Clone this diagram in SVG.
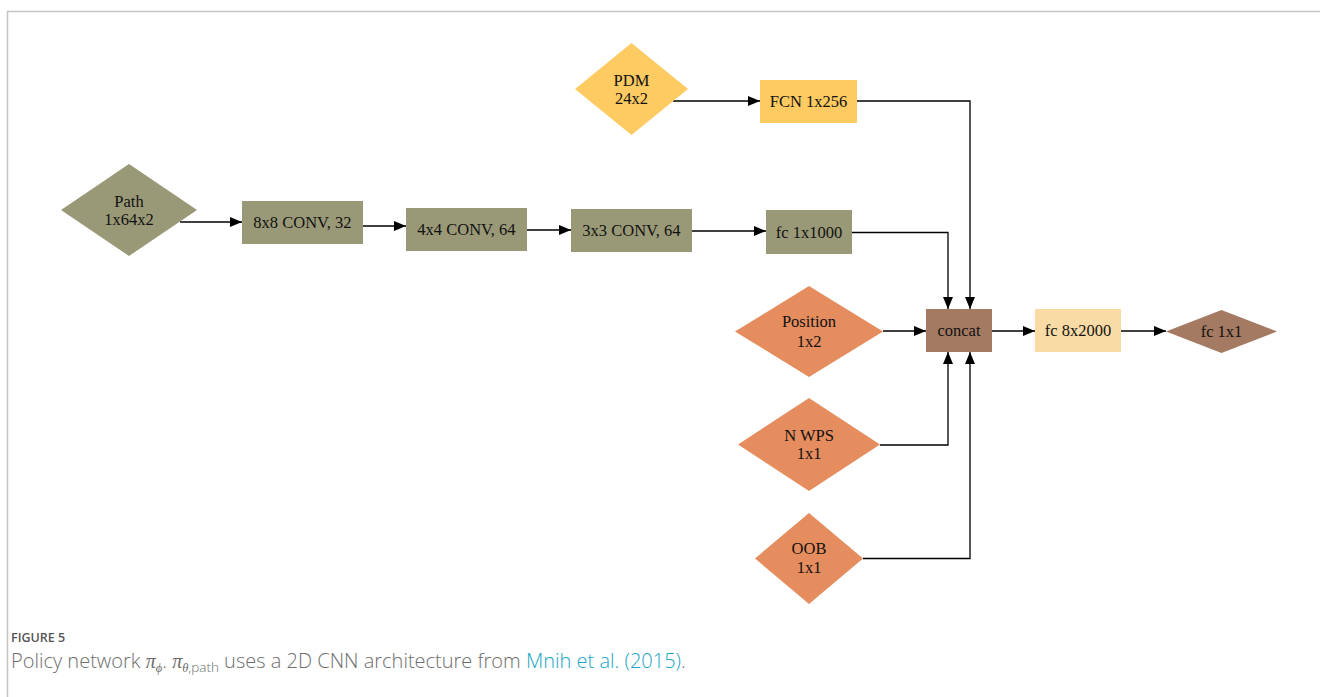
<svg xmlns="http://www.w3.org/2000/svg" width="1320" height="697" viewBox="0 0 1320 697">
<style>
.lbl{font-family:"Liberation Serif","Times New Roman",serif;font-size:16.5px;fill:#111;text-anchor:middle}
.olive{fill:#9a9977}
.yel{fill:#fecb62}
.org{fill:#e58d5e}
.brn{fill:#a57a62}
.lt{fill:#f9dba5}
.edge{fill:none;stroke:#000;stroke-width:1.3}
.cap{font-family:"Open Sans","Liberation Sans",sans-serif}
.m{font-family:"Liberation Serif","Times New Roman",serif;font-style:italic}
</style>
<defs>
<marker id="ah" viewBox="0 0 12 10" refX="12" refY="5" markerWidth="12" markerHeight="10" markerUnits="userSpaceOnUse" orient="auto">
<path d="M0,0 L12,5 L0,10 Z" fill="#000"/>
</marker>
</defs>
<rect width="1320" height="697" fill="#fff"/>
<path d="M7.5,697 V11.5 H1320" fill="none" stroke="#c4c4c4" stroke-width="1.5"/>

<g id="connectors">
<path class="edge" d="M180,222 H242" marker-end="url(#ah)"/>
<path class="edge" d="M363,226 H406" marker-end="url(#ah)"/>
<path class="edge" d="M527,230 H571" marker-end="url(#ah)"/>
<path class="edge" d="M692,231 H766" marker-end="url(#ah)"/>
<path class="edge" d="M852,232.5 H948 V309" marker-end="url(#ah)"/>
<path class="edge" d="M673,101 H760" marker-end="url(#ah)"/>
<path class="edge" d="M857,101 H970 V309" marker-end="url(#ah)"/>
<path class="edge" d="M883,331 H926" marker-end="url(#ah)"/>
<path class="edge" d="M880,445 H948 V352" marker-end="url(#ah)"/>
<path class="edge" d="M863,558.5 H970 V352" marker-end="url(#ah)"/>
<path class="edge" d="M992,331 H1035" marker-end="url(#ah)"/>
<path class="edge" d="M1121,331 H1166" marker-end="url(#ah)"/>
</g>

<g id="path">
<polygon class="olive" points="129,164 197,210 129,256 61,210"/>
<text class="lbl" x="129" y="207">Path</text>
<text class="lbl" x="129" y="225">1x64x2</text>
</g>
<g id="conv8">
<rect class="olive" x="242" y="201" width="121" height="43"/>
<text class="lbl" x="302.5" y="228">8x8 CONV, 32</text>
</g>
<g id="conv4">
<rect class="olive" x="406" y="208" width="121" height="43"/>
<text class="lbl" x="466.5" y="235">4x4 CONV, 64</text>
</g>
<g id="conv3">
<rect class="olive" x="571" y="209" width="121" height="43"/>
<text class="lbl" x="631.5" y="236">3x3 CONV, 64</text>
</g>
<g id="fc1000">
<rect class="olive" x="766" y="210" width="86" height="44"/>
<text class="lbl" x="809" y="238">fc 1x1000</text>
</g>
<g id="pdm">
<polygon class="yel" points="631.5,43 688,89 631.5,135 575,89"/>
<text class="lbl" x="631.5" y="86">PDM</text>
<text class="lbl" x="631.5" y="104">24x2</text>
</g>
<g id="fcn">
<rect class="yel" x="760" y="80" width="97" height="43"/>
<text class="lbl" x="808.5" y="107">FCN 1x256</text>
</g>
<g id="position">
<polygon class="org" points="809,286 883,331.5 809,377 735,331.5"/>
<text class="lbl" x="809" y="327">Position</text>
<text class="lbl" x="809" y="347">1x2</text>
</g>
<g id="nwps">
<polygon class="org" points="809,398 880,444.5 809,491 738,444.5"/>
<text class="lbl" x="809" y="441">N WPS</text>
<text class="lbl" x="809" y="459">1x1</text>
</g>
<g id="oob">
<polygon class="org" points="809,513 863,558.5 809,604 755,558.5"/>
<text class="lbl" x="809" y="554">OOB</text>
<text class="lbl" x="809" y="573">1x1</text>
</g>
<g id="concat">
<rect class="brn" x="926" y="309" width="66" height="43"/>
<text class="lbl" x="959" y="336">concat</text>
</g>
<g id="fc2000">
<rect class="lt" x="1035" y="309" width="86" height="43"/>
<text class="lbl" x="1078" y="336">fc 8x2000</text>
</g>
<g id="fc1x1">
<polygon class="brn" points="1221.5,310 1277,331.5 1221.5,353 1166,331.5"/>
<text class="lbl" x="1221.5" y="337">fc 1x1</text>
</g>

<g id="caption">
<text class="cap" x="11" y="642" font-size="12.5" font-weight="600" fill="#555">FIGURE 5</text>
<text class="cap" x="11" y="668" font-size="20" font-weight="300" fill="#6e6e6e">Policy network <tspan class="m">π</tspan><tspan class="m" font-size="12.5" dy="4">ϕ</tspan><tspan dy="-4">. </tspan><tspan class="m">π</tspan><tspan class="m" font-size="12.5" dy="4">θ</tspan><tspan font-size="13.5">,path</tspan><tspan dy="-4"> uses a 2D CNN architecture from </tspan><tspan fill="#1aa5c4">Mnih et al. (2015)</tspan>.</text>
</g>
</svg>
